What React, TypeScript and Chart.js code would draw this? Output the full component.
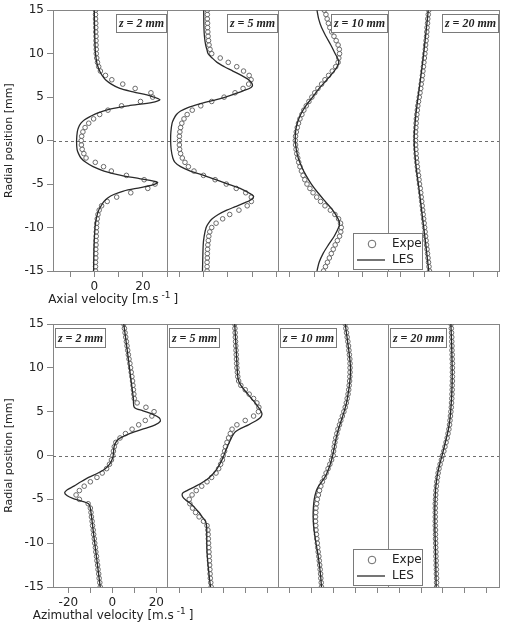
import { useEffect, useRef } from "react";
import { Chart, registerables } from "chart.js";

Chart.register(...registerables);

// ---------- DATA ----------
const RADIAL = [15, 14.5, 14, 13.5, 13, 12.5, 12, 11.5, 11, 10.5, 10, 9.5, 9, 8.5, 8, 7.5, 7, 6.5, 6, 5.5, 5, 4.5, 4, 3.5, 3, 2.5, 2, 1.5, 1, 0.5, 0, -0.5, -1, -1.5, -2, -2.5, -3, -3.5, -4, -4.5, -5, -5.5, -6, -6.5, -7, -7.5, -8, -8.5, -9, -9.5, -10, -10.5, -11, -11.5, -12, -12.5, -13, -13.5, -14, -14.5, -15];

const Z_LABELS = ["z = 2 mm", "z = 5 mm", "z = 10 mm", "z = 20 mm"];
const Y_TITLE = "Radial position [mm]";
const AXIAL_TITLE = "Axial velocity [m.s";
const AZIM_TITLE = "Azimuthal velocity [m.s";
const UNIT_SUP = "-1";
const LEGEND_EXP = "Expe";
const LEGEND_LES = "LES";

// Axial velocity, experiments (one value per RADIAL entry)
const AXIAL_EXP_Z2 = [0.5, 0.5, 0.5, 0.6, 0.6, 0.6, 0.7, 0.7, 0.7, 0.8, 0.8, 1.0, 1.3, 1.8, 2.5, 4.6, 7.2, 11.7, 16.8, 23.3, 24.0, 19.0, 11.2, 5.6, 2.2, -0.3, -2.3, -3.8, -4.7, -5.2, -5.4, -5.3, -5.0, -4.3, -3.4, 0.4, 3.8, 7.0, 13.2, 20.5, 25.0, 22.0, 15.0, 9.2, 5.3, 3.0, 2.0, 1.5, 1.2, 1.0, 0.9, 0.8, 0.8, 0.7, 0.7, 0.6, 0.6, 0.6, 0.5, 0.5, 0.5];
const AXIAL_EXP_Z5 = [1.5, 1.5, 1.5, 1.6, 1.6, 1.7, 1.8, 2.0, 2.2, 2.6, 3.3, 6.8, 10.1, 13.6, 16.4, 18.7, 19.5, 18.5, 16.2, 12.9, 8.4, 3.3, -1.2, -4.7, -6.8, -8.1, -9.0, -9.5, -9.8, -10.0, -10.0, -10.0, -9.9, -9.5, -8.8, -7.7, -6.3, -4.0, -0.1, 4.7, 9.3, 13.4, 17.3, 19.6, 19.6, 17.9, 14.5, 10.7, 7.8, 5.1, 3.3, 2.5, 2.1, 1.9, 1.7, 1.6, 1.5, 1.5, 1.4, 1.4, 1.4];
const AXIAL_EXP_Z10 = [4.1, 4.8, 5.3, 5.8, 6.4, 7.2, 8.1, 9.0, 9.8, 10.3, 10.4, 10.1, 9.8, 8.8, 7.4, 5.9, 4.4, 3.0, 1.5, 0.2, -1.0, -2.2, -3.3, -4.3, -5.1, -5.9, -6.5, -7.0, -7.4, -7.7, -7.8, -7.7, -7.5, -7.2, -6.8, -6.4, -5.9, -5.3, -4.6, -3.9, -3.0, -1.8, -0.5, 1.0, 2.6, 4.4, 6.6, 8.5, 10.0, 10.8, 11.1, 10.9, 10.4, 9.5, 8.6, 7.8, 7.0, 6.2, 5.4, 4.6, 3.8];
const AXIAL_EXP_Z20 = [1.6, 1.4, 1.2, 1.1, 0.9, 0.8, 0.7, 0.5, 0.3, 0.2, 0.0, -0.2, -0.4, -0.6, -0.8, -1.0, -1.2, -1.5, -1.7, -2.0, -2.3, -2.6, -2.9, -3.1, -3.3, -3.5, -3.6, -3.7, -3.8, -3.8, -3.8, -3.8, -3.7, -3.6, -3.5, -3.3, -3.1, -2.9, -2.6, -2.4, -2.2, -1.9, -1.7, -1.5, -1.3, -1.1, -0.9, -0.7, -0.5, -0.3, -0.1, 0.1, 0.3, 0.5, 0.7, 0.9, 1.1, 1.3, 1.5, 1.7, 1.9];

// Axial velocity, LES (radial positions and values)
const AXIAL_LES_Z2_R = [15, 13, 11, 10, 9, 8.5, 8, 7.5, 7, 6.5, 6, 5.6, 5.1, 4.7, 4.4, 4.0, 3.6, 3.2, 2.8, 2.4, 2.0, 1.5, 1.0, 0, -1.0, -1.5, -2.0, -2.5, -3.0, -3.5, -4.0, -4.4, -4.8, -5.1, -5.4, -5.8, -6.2, -6.6, -7, -7.5, -8, -9, -10, -12, -15];
const AXIAL_LES_Z2_V = [0, 0.1, 0.3, 0.5, 1.0, 1.5, 2.2, 3.2, 4.6, 7, 10.5, 16, 23.5, 27, 24, 14, 6, 1.5, -1.5, -4, -5.5, -6.5, -7.0, -7.3, -7.1, -6.5, -5.5, -3.5, -0.5, 4, 11, 19, 26, 24, 19, 12, 8, 5.5, 4, 2.8, 1.8, 0.8, 0.3, -0.1, -0.3];
const AXIAL_LES_Z5_R = [15, 13, 12, 11, 10.5, 10, 9.5, 9, 8.5, 8, 7.5, 7, 6.5, 6.1, 5.7, 5.3, 5.0, 4.6, 4.2, 3.8, 3.4, 3.0, 2.5, 2, 1, 0, -1, -2, -2.5, -3, -3.5, -4, -4.5, -5, -5.5, -6, -6.4, -6.8, -7.2, -7.6, -8, -8.5, -9, -9.5, -10, -11, -12, -15];
const AXIAL_LES_Z5_V = [0, 0.1, 0.3, 0.8, 1.3, 1.8, 3.5, 5.5, 8.5, 12, 15.5, 18.5, 20, 19.5, 16, 12, 9, 3.5, -2, -6.5, -9.5, -11.2, -12.3, -13, -13.5, -13.6, -13.4, -12.7, -11.8, -9.5, -5.5, 0, 5, 10, 15, 18.5, 20.5, 19.5, 16.5, 13, 9.5, 6, 3.5, 2, 1.0, 0.2, -0.2, -0.5];
const AXIAL_LES_Z10_R = [15, 14, 13, 12, 11, 10, 9.2, 8.7, 8, 7, 6, 5, 4, 3, 2, 1, 0, -1, -2, -3, -4, -5, -6, -7, -8, -9, -9.5, -10, -11, -12, -13, -14, -15];
const AXIAL_LES_Z10_V = [1.1, 1.8, 3.0, 4.8, 6.8, 8.6, 10.0, 9.8, 8.2, 5.2, 2.0, -0.7, -3.5, -5.6, -7.0, -7.7, -7.8, -7.4, -6.6, -5.2, -3.4, -1.2, 1.5, 4.5, 7.6, 9.8, 10.4, 10.0, 8.2, 5.8, 3.6, 2.0, 1.1];
const AXIAL_LES_Z20_R = [15, 12, 9, 6, 3, 0, -3, -6, -9, -12, -15];
const AXIAL_LES_Z20_V = [1.4, 0.3, -0.9, -2.3, -3.7, -4.4, -3.6, -2.2, -0.9, 0.4, 1.6];

// Azimuthal velocity, experiments
const AZIM_EXP_Z2 = [5.2, 5.5, 5.8, 6.1, 6.4, 6.7, 7.0, 7.3, 7.6, 8.0, 8.3, 8.6, 8.9, 9.2, 9.4, 9.6, 9.8, 10.0, 11.3, 15.3, 19.0, 18.0, 15.0, 12.0, 9.0, 6.0, 3.5, 1.6, 0.9, 0.5, 0.2, -0.4, -1.3, -2.6, -4.6, -7.0, -10.0, -12.8, -15.0, -16.5, -15.0, -11.0, -10.0, -9.7, -9.5, -9.2, -9.0, -8.7, -8.5, -8.2, -8.0, -7.7, -7.5, -7.2, -7.0, -6.7, -6.5, -6.2, -6.0, -5.7, -5.5];
const AZIM_EXP_Z5 = [5.2, 5.3, 5.4, 5.5, 5.6, 5.7, 5.8, 5.9, 6.0, 6.1, 6.2, 6.4, 6.6, 7.0, 8.0, 10.0, 11.8, 13.8, 15.3, 16.2, 16.0, 13.8, 10.0, 6.2, 4.0, 3.2, 2.4, 1.7, 1.0, 0.6, 0.0, -0.4, -1.2, -2.1, -3.3, -5.3, -7.4, -9.8, -12.3, -14.2, -15.5, -15.2, -14.0, -12.6, -11.0, -9.0, -7.4, -7.0, -6.9, -6.8, -6.7, -6.6, -6.5, -6.4, -6.3, -6.2, -6.1, -6.0, -5.9, -5.7, -5.5];
const AZIM_EXP_Z10 = [5.5, 5.8, 6.1, 6.4, 6.7, 7.0, 7.2, 7.4, 7.6, 7.7, 7.7, 7.7, 7.6, 7.5, 7.3, 7.1, 6.8, 6.4, 6.0, 5.5, 4.9, 4.2, 3.5, 2.9, 2.2, 1.7, 1.2, 0.8, 0.5, 0.2, 0.0, -0.7, -1.5, -2.3, -3.2, -4.0, -4.9, -5.6, -6.2, -6.7, -7.2, -7.5, -7.8, -7.9, -8.0, -8.0, -7.9, -7.8, -7.6, -7.4, -7.2, -7.0, -6.8, -6.5, -6.3, -6.1, -5.9, -5.7, -5.6, -5.4, -5.3];
const AZIM_EXP_Z20 = [3.7, 3.8, 3.9, 4.0, 4.0, 4.1, 4.1, 4.2, 4.2, 4.3, 4.3, 4.3, 4.3, 4.3, 4.2, 4.2, 4.1, 4.0, 3.9, 3.8, 3.6, 3.4, 3.2, 3.0, 2.7, 2.3, 1.9, 1.4, 0.9, 0.4, -0.2, -0.7, -1.3, -1.8, -2.2, -2.5, -2.8, -3.0, -3.2, -3.3, -3.4, -3.5, -3.5, -3.5, -3.5, -3.5, -3.5, -3.4, -3.4, -3.4, -3.3, -3.3, -3.2, -3.2, -3.1, -3.1, -3.0, -3.0, -2.9, -2.9, -2.9];

// Azimuthal velocity, LES
const AZIM_LES_Z2_R = [15, 12, 9, 6.5, 5.5, 5.1, 4.7, 4.3, 3.9, 3.5, 3.1, 2.7, 2.3, 1.9, 1.5, 1.0, 0, -0.5, -1.0, -1.5, -2.0, -2.5, -3.0, -3.5, -3.9, -4.25, -4.6, -4.9, -5.2, -5.5, -6, -9, -12, -15];
const AZIM_LES_Z2_V = [5.2, 6.8, 8.3, 9.6, 10.0, 14, 18.5, 21.3, 21.8, 19.5, 15, 10, 6, 3, 1.6, 0.8, 0.4, -0.2, -1.3, -3.2, -6.5, -10.8, -14.3, -17.5, -20.5, -21.7, -20.5, -18, -14, -10.8, -10, -8.5, -7, -5.5];
const AZIM_LES_Z5_R = [15, 12, 10, 9, 8.5, 8, 7.5, 7, 6.5, 6, 5.5, 5.0, 4.7, 4.3, 3.9, 3.5, 3.1, 2.7, 2.3, 1.8, 1.3, 0.5, 0, -0.5, -1, -1.5, -2, -2.5, -3, -3.5, -4, -4.3, -4.7, -5.1, -5.5, -6, -6.5, -7, -7.5, -8, -9, -10, -11, -12, -13, -14, -15];
const AZIM_LES_Z5_V = [5.2, 5.9, 6.3, 6.6, 7.0, 8.0, 9.5, 11.2, 12.8, 14.5, 16, 17.3, 17.6, 16.8, 14.5, 11.5, 8, 5.5, 4.3, 3.3, 2.4, 1.0, 0.3, -0.6, -1.6, -2.8, -4.3, -6.3, -9, -12.5, -16.5, -18.5, -18.5, -17, -14.8, -12.8, -11, -9.6, -8.1, -7.6, -7.5, -7.5, -7.4, -7.1, -6.7, -6.3, -5.8];
const AZIM_LES_Z10_R = [15, 13, 11, 10, 9, 8, 7, 6, 5, 4, 3, 2, 1, 0, -1, -2, -2.5, -3, -3.5, -4, -5, -6, -7, -8, -9, -10, -11, -12, -13, -14, -15];
const AZIM_LES_Z10_V = [5.5, 6.6, 7.6, 7.9, 7.8, 7.4, 6.8, 6.1, 5.0, 3.7, 2.4, 1.4, 0.6, -0.2, -1.3, -2.8, -3.8, -5.2, -6.6, -7.6, -8.6, -9.0, -9.1, -8.9, -8.4, -7.8, -7.1, -6.5, -6.0, -5.6, -5.3];
const AZIM_LES_Z20_R = [15, 13, 11, 9, 7, 5, 4, 3, 2, 1, 0, -1, -2, -3, -4, -6, -8, -10, -12, -15];
const AZIM_LES_Z20_V = [3.6, 3.9, 4.1, 4.2, 4.0, 3.5, 3.1, 2.5, 1.6, 0.6, -0.4, -1.5, -2.4, -3.0, -3.4, -3.7, -3.7, -3.5, -3.3, -3.1];

// Tick values / labels per sub-panel
const AXIAL_TICKS = [-10, 0, 10, 20, 30];
const AXIAL_TICK_LABELS = ["", "0", "", "20", ""];
const AZIM_TICKS = [-20, -10, 0, 10, 20];
const AZIM_TICK_LABELS = ["-20", "", "0", "", "20"];
const Y_TICK_STEP = 5;

// ---------- LAYOUT ----------
const SANS = "'DejaVu Sans', sans-serif";
const SERIF = "'Liberation Serif', 'DejaVu Serif', serif";
const FRAME = "#858585";
const TEXT = "#222";

type Block = {
  id: string;
  exp: number[][];
  lesR: number[][];
  lesV: number[][];
  offsets: number[];
  dividers: number[];
  xMin: number;
  xMax: number;
  ticks: number[];
  tickLabels: string[];
  title: string;
  labelSide: "left" | "right";
  boxH: number;
  padTop: number;
  xAxisH: number;
  height: number;
};

const AXIAL_BLOCK: Block = {
  id: "axial",
  exp: [AXIAL_EXP_Z2, AXIAL_EXP_Z5, AXIAL_EXP_Z10, AXIAL_EXP_Z20],
  lesR: [AXIAL_LES_Z2_R, AXIAL_LES_Z5_R, AXIAL_LES_Z10_R, AXIAL_LES_Z20_R],
  lesV: [AXIAL_LES_Z2_V, AXIAL_LES_Z5_V, AXIAL_LES_Z10_V, AXIAL_LES_Z20_V],
  offsets: [0, 45, 90.5, 136],
  dividers: [30, 75.5, 121],
  xMin: -17,
  xMax: 166.5,
  ticks: AXIAL_TICKS,
  tickLabels: AXIAL_TICK_LABELS,
  title: AXIAL_TITLE,
  labelSide: "right",
  boxH: 18,
  padTop: 8,
  xAxisH: 41,
  height: 312,
};

const AZIM_BLOCK: Block = {
  id: "azim",
  exp: [AZIM_EXP_Z2, AZIM_EXP_Z5, AZIM_EXP_Z10, AZIM_EXP_Z20],
  lesR: [AZIM_LES_Z2_R, AZIM_LES_Z5_R, AZIM_LES_Z10_R, AZIM_LES_Z20_R],
  lesV: [AZIM_LES_Z2_V, AZIM_LES_Z5_V, AZIM_LES_Z10_V, AZIM_LES_Z20_V],
  offsets: [0, 50.5, 100.5, 150.5],
  dividers: [25, 75.5, 125.5],
  xMin: -27,
  xMax: 176,
  ticks: AZIM_TICKS,
  tickLabels: AZIM_TICK_LABELS,
  title: AZIM_TITLE,
  labelSide: "left",
  boxH: 19,
  padTop: 12,
  xAxisH: 36,
  height: 311,
};

function buildConfig(b: Block): any {
  const datasets: any[] = [];
  for (let k = 0; k < 4; k++) {
    datasets.push({
      label: "LES " + Z_LABELS[k],
      data: b.lesR[k].map((r, i) => ({ x: b.lesV[k][i] + b.offsets[k], y: r })),
      showLine: true,
      borderColor: "#2a2a2a",
      borderWidth: 1.3,
      pointRadius: 0,
      tension: 0.3,
      order: 0,
    });
  }
  for (let k = 0; k < 4; k++) {
    datasets.push({
      label: "Expe " + Z_LABELS[k],
      data: RADIAL.map((r, i) => ({ x: b.exp[k][i] + b.offsets[k], y: r })),
      showLine: false,
      pointStyle: "circle",
      pointRadius: 2.3,
      pointBorderWidth: 1,
      pointBorderColor: "#6a6a6a",
      pointBackgroundColor: "rgba(0,0,0,0)",
      order: 1,
    });
  }

  const allTicks: number[] = [];
  const allLabels: string[] = [];
  b.offsets.forEach((o, k) => {
    b.ticks.forEach((t, j) => {
      allTicks.push(o + t);
      allLabels.push(k === 0 ? b.tickLabels[j] : "");
    });
  });

  const plugin = {
    id: "panels_" + b.id,
    beforeDatasetsDraw(chart: any) {
      const { ctx, chartArea: a, scales } = chart;
      const x = scales.x;
      const y = scales.y;
      ctx.save();
      ctx.strokeStyle = FRAME;
      ctx.lineWidth = 1;
      b.dividers.forEach((d) => {
        const px = Math.round(x.getPixelForValue(d)) + 0.5;
        ctx.beginPath();
        ctx.moveTo(px, a.top);
        ctx.lineTo(px, a.bottom);
        ctx.stroke();
      });
      ctx.beginPath();
      ctx.moveTo(Math.round(a.left), Math.round(a.top) + 0.5);
      ctx.lineTo(Math.round(a.right) + 1, Math.round(a.top) + 0.5);
      ctx.moveTo(Math.round(a.right) + 0.5, Math.round(a.top));
      ctx.lineTo(Math.round(a.right) + 0.5, Math.round(a.bottom));
      ctx.stroke();
      const y0 = Math.round(y.getPixelForValue(0)) + 0.5;
      ctx.setLineDash([3, 3]);
      ctx.strokeStyle = "#6e6e6e";
      ctx.beginPath();
      ctx.moveTo(a.left, y0);
      ctx.lineTo(a.right, y0);
      ctx.stroke();
      ctx.restore();
    },
    afterDatasetsDraw(chart: any) {
      const { ctx, chartArea: a, scales } = chart;
      const x = scales.x;
      ctx.save();
      // z labels
      ctx.font = `italic bold 12px ${SERIF}`;
      ctx.textAlign = "center";
      ctx.textBaseline = "middle";
      Z_LABELS.forEach((t, k) => {
        const w = Math.round(ctx.measureText(t).width + 5);
        const h = b.boxH;
        const leftEdge = k === 0 ? a.left : x.getPixelForValue(b.dividers[k - 1]);
        const rightEdge = k === 3 ? a.right : x.getPixelForValue(b.dividers[k]);
        const bx = b.labelSide === "right" ? Math.round(rightEdge) - 1 - w : Math.round(leftEdge) + 2;
        const by = Math.round(a.top) + 4;
        ctx.fillStyle = "#fff";
        ctx.fillRect(bx, by, w, h);
        ctx.strokeStyle = "#7a7a7a";
        ctx.lineWidth = 1;
        ctx.strokeRect(bx + 0.5, by + 0.5, w, h);
        ctx.fillStyle = TEXT;
        ctx.fillText(t, bx + w / 2 + 0.5, by + h / 2 + 1);
      });
      // legend
      const lw = 69;
      const lh = 36;
      const lx = Math.round(a.left) + 300;
      const ly = Math.round(a.bottom) - 2 - lh;
      ctx.fillStyle = "#fff";
      ctx.fillRect(lx, ly, lw, lh);
      ctx.strokeStyle = "#7a7a7a";
      ctx.strokeRect(lx + 0.5, ly + 0.5, lw, lh);
      ctx.beginPath();
      ctx.strokeStyle = "#6a6a6a";
      ctx.arc(lx + 19, ly + 11, 3.8, 0, Math.PI * 2);
      ctx.stroke();
      ctx.beginPath();
      ctx.strokeStyle = "#2a2a2a";
      ctx.lineWidth = 1.3;
      ctx.moveTo(lx + 4, ly + 27);
      ctx.lineTo(lx + 32, ly + 27);
      ctx.stroke();
      ctx.fillStyle = TEXT;
      ctx.font = `12px ${SANS}`;
      ctx.textAlign = "left";
      ctx.textBaseline = "middle";
      ctx.fillText(LEGEND_EXP, lx + 39, ly + 11);
      ctx.fillText(LEGEND_LES, lx + 39, ly + 27);
      // x title with superscript
      const cx = (a.left + x.getPixelForValue(b.dividers[0])) / 2 + 3;
      const base = Math.round(a.bottom) + 32;
      ctx.textBaseline = "alphabetic";
      ctx.font = `12px ${SANS}`;
      const w1 = ctx.measureText(b.title).width;
      const w3 = ctx.measureText("]").width;
      ctx.font = `9px ${SANS}`;
      const w2 = ctx.measureText(UNIT_SUP).width;
      const total = w1 + 3 + w2 + 3 + w3;
      let sx = cx - total / 2;
      ctx.font = `12px ${SANS}`;
      ctx.fillText(b.title, sx, base);
      sx += w1 + 3;
      ctx.font = `9px ${SANS}`;
      ctx.fillText(UNIT_SUP, sx, base - 5);
      sx += w2 + 3;
      ctx.font = `12px ${SANS}`;
      ctx.fillText("]", sx, base);
      ctx.restore();
    },
  };

  return {
    type: "scatter",
    data: { datasets },
    plugins: [plugin],
    options: {
      animation: false,
      responsive: false,
      maintainAspectRatio: false,
      layout: { padding: { top: b.padTop, right: 7, bottom: 0, left: 0 } },
      plugins: {
        legend: { display: false },
        tooltip: { enabled: false },
        title: { display: false },
      },
      scales: {
        x: {
          type: "linear",
          min: b.xMin,
          max: b.xMax,
          afterBuildTicks: (s: any) => {
            s.ticks = allTicks.map((v) => ({ value: v }));
          },
          afterFit: (s: any) => {
            s.height = b.xAxisH;
          },
          ticks: {
            autoSkip: false,
            maxRotation: 0,
            padding: 3,
            color: TEXT,
            font: { family: SANS, size: 12 },
            callback: (_v: any, i: number) => allLabels[i],
          },
          grid: { drawOnChartArea: false, tickLength: 6, color: FRAME },
          border: { color: FRAME },
        },
        y: {
          type: "linear",
          min: -15,
          max: 15,
          afterFit: (s: any) => {
            s.width = 53;
          },
          ticks: {
            stepSize: Y_TICK_STEP,
            padding: 3,
            color: TEXT,
            font: { family: SANS, size: 12 },
          },
          grid: { drawOnChartArea: false, tickLength: 6, color: FRAME },
          border: { color: FRAME },
          title: {
            display: true,
            text: Y_TITLE,
            color: TEXT,
            font: { family: SANS, size: 11 },
            padding: { top: 3, bottom: 0 },
          },
        },
      },
    },
  };
}

function PanelChart({ block }: { block: Block }) {
  const ref = useRef<HTMLCanvasElement>(null);
  useEffect(() => {
    if (!ref.current) return;
    const chart = new Chart(ref.current, buildConfig(block));
    return () => chart.destroy();
  }, [block]);
  return (
    <canvas
      ref={ref}
      width={506}
      height={block.height}
      style={{ display: "block", width: 506, height: block.height }}
    />
  );
}

export default function App() {
  return (
    <div style={{ position: "absolute", left: 0, top: 0, width: 506, height: 623, background: "#fff" }}>
      <PanelChart block={AXIAL_BLOCK} />
      <PanelChart block={AZIM_BLOCK} />
    </div>
  );
}
